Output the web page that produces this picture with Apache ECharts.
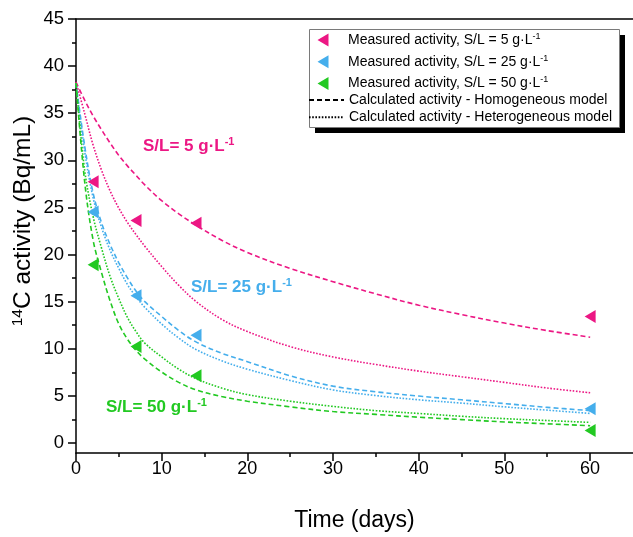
<!DOCTYPE html>
<html>
<head>
<meta charset="utf-8">
<script src="https://cdn.jsdelivr.net/npm/echarts@6/dist/echarts.min.js"></script>
<style>html,body{margin:0;padding:0;background:#fff;}#c{width:633px;height:537px;}</style>
</head>
<body>
<div id="c"></div>
<script>
// Measured data
const days = [2, 7, 14, 60];
const measured5 = [27.7, 23.6, 23.3, 13.4];
const measured25 = [24.5, 15.6, 11.4, 3.6];
const measured50 = [18.9, 10.2, 7.1, 1.3];

// Model curves
const modelDays = [0, 1, 2, 3, 4, 5, 6, 7, 8, 10, 12, 14, 17, 20, 25, 30, 35, 40, 45, 50, 55, 60];
const homog5   = [38.3, 36.4, 34.7, 33.2, 31.8, 30.5, 29.4, 28.4, 27.4, 25.7, 24.3, 23.1, 21.5, 20.2, 18.5, 17.1, 15.8, 14.6, 13.6, 12.7, 11.9, 11.2];
const hetero5  = [38.3, 35.0, 31.6, 28.9, 26.7, 24.9, 23.4, 22.1, 20.9, 18.7, 16.7, 15.0, 13.1, 11.8, 10.2, 9.1, 8.3, 7.6, 7.0, 6.4, 5.8, 5.3];
const homog25  = [38.2, 31.6, 26.5, 23.3, 21.0, 19.1, 17.5, 16.1, 15.0, 13.4, 11.9, 10.7, 9.5, 8.6, 7.1, 6.0, 5.4, 4.95, 4.55, 4.15, 3.75, 3.4];
const hetero25 = [38.2, 31.0, 26.0, 22.8, 20.4, 18.5, 16.8, 15.5, 14.4, 12.6, 11.1, 9.9, 8.7, 7.8, 6.6, 5.6, 5.0, 4.55, 4.2, 3.8, 3.45, 3.1];
const homog50  = [38.2, 27.8, 21.5, 18.0, 15.0, 12.6, 11.0, 9.8, 8.9, 7.5, 6.4, 5.6, 4.9, 4.4, 3.8, 3.3, 3.0, 2.7, 2.45, 2.2, 2.0, 1.8];
const hetero50 = [38.2, 29.0, 24.0, 20.6, 17.6, 15.3, 13.3, 11.8, 10.6, 9.1, 7.8, 6.8, 5.8, 5.1, 4.4, 3.85, 3.4, 3.1, 2.8, 2.55, 2.35, 2.15];

const names = {
  m5: 'Measured activity, S/L = 5 g·L-1',
  m25: 'Measured activity, S/L = 25 g·L-1',
  m50: 'Measured activity, S/L = 50 g·L-1',
  hom: 'Calculated activity - Homogeneous model',
  het: 'Calculated activity - Heterogeneous model'
};

const PINK = '#EC1784', BLUE = '#45AEEC', GREEN = '#22C922';
const FONT = 'Liberation Sans, Arial, sans-serif';
const DASH = [5, 3], DOT = [1.6, 1.6];
const AXIS_LINE = { color: '#000', width: 1.5 };

function pairs(xs, ys) { return xs.map((x, i) => [x, ys[i]]); }

const triIcon = 'path://M0,0 L0.01,0 L0,0.01 Z M35,13 L34.99,13 L35,12.99 Z M9.5,6.5 L20.5,0 L20.5,13 Z';

function scatter(name, ys, color) {
  return {
    name: name, type: 'scatter', data: pairs(days, ys),
    symbol: 'triangle', symbolRotate: 90, symbolSize: [13, 11],
    itemStyle: { color: color, opacity: 1 }, z: 4
  };
}
function curve(name, ys, color, type) {
  return {
    name: name, type: 'line', data: pairs(modelDays, ys),
    showSymbol: false, symbol: 'none', smooth: 0.35,
    lineStyle: { color: color, width: 1.6, type: type }, itemStyle: { color: color },
    z: 3, silent: true
  };
}

const legendFormatter = function (n) { return n.replace(/-1$/, '{s|-1}'); };
const legendText = {
  fontFamily: FONT, fontSize: 14, color: '#000', lineHeight: 16,
  rich: { s: { fontFamily: FONT, fontSize: 9, verticalAlign: 'top', lineHeight: 9, color: '#000' } }
};

function label(x, y, main, color) {
  return {
    type: 'text', x: x, y: y, z: 20,
    style: {
      text: '{b|' + main + '}{s|-1}', fill: color,
      verticalAlign: 'middle', align: 'left',
      rich: {
        b: { fontFamily: FONT, fontSize: 17, fontWeight: 'bold', fill: color, lineHeight: 20 },
        s: { fontFamily: FONT, fontSize: 11, fontWeight: 'bold', fill: color, verticalAlign: 'top', lineHeight: 11 }
      }
    }
  };
}

const chart = echarts.init(document.getElementById('c'), null, { renderer: 'canvas' });
chart.setOption({
  animation: false,
  backgroundColor: '#fff',
  grid: [
    { left: 76, right: 0, top: 19, bottom: 84, containLabel: false },
    // helper grid spanning y 0..45 only, for the y tick marks and labels
    { left: 76, right: 0, top: 19, bottom: 94, containLabel: false },
    // helper grid spanning x 0..60 only, for the x tick marks and labels
    { left: 76, right: 43, top: 19, bottom: 84, containLabel: false }
  ],
  xAxis: [{
    gridIndex: 0, type: 'value', min: 0, max: 65, position: 'bottom',
    axisLine: { show: true, onZero: false, lineStyle: AXIS_LINE },
    axisTick: { show: false }, axisLabel: { show: false }, splitLine: { show: false },
    name: 'Time (days)', nameLocation: 'middle', nameGap: 56,
    nameTextStyle: { fontFamily: FONT, fontSize: 23, color: '#000' }
  }, {
    gridIndex: 0, type: 'value', min: 0, max: 65, position: 'top',
    axisLine: { show: true, onZero: false, lineStyle: AXIS_LINE },
    axisTick: { show: false }, axisLabel: { show: false }, splitLine: { show: false }
  }, {
    gridIndex: 1, type: 'value', min: 0, max: 65, show: false
  }, {
    gridIndex: 2, type: 'value', min: 0, max: 60, interval: 10, position: 'bottom',
    axisLine: { show: false, onZero: false },
    axisTick: { show: true, inside: false, length: 8, lineStyle: AXIS_LINE },
    minorTick: { show: true, splitNumber: 2, length: 4, lineStyle: AXIS_LINE },
    splitLine: { show: false }, minorSplitLine: { show: false },
    axisLabel: { margin: 7, fontFamily: FONT, fontSize: 18, color: '#000' }
  }],
  yAxis: [{
    gridIndex: 0, type: 'value', min: -1.1, max: 45, position: 'left',
    axisLine: { show: true, onZero: false, lineStyle: AXIS_LINE },
    axisTick: { show: false }, axisLabel: { show: false }, splitLine: { show: false },
    name: '{s|14}C activity (Bq/mL)', nameLocation: 'middle', nameGap: 40, nameRotate: 90,
    nameTextStyle: {
      fontFamily: FONT, fontSize: 24.5, color: '#000', lineHeight: 26, padding: [0, 0, 0, 30],
      rich: { s: { fontFamily: FONT, fontSize: 15.5, color: '#000', verticalAlign: 'top', lineHeight: 14 } }
    }
  }, {
    gridIndex: 1, type: 'value', min: 0, max: 45, interval: 5, position: 'left',
    axisLine: { show: false, onZero: false },
    axisTick: { show: true, inside: false, length: 8, lineStyle: AXIS_LINE },
    minorTick: { show: true, splitNumber: 2, length: 4, lineStyle: AXIS_LINE },
    axisLabel: { margin: 12, fontFamily: FONT, fontSize: 18.5, color: '#000' },
    splitLine: { show: false }, minorSplitLine: { show: false }
  }, {
    gridIndex: 2, type: 'value', min: 0, max: 45, show: false
  }],
  legend: [{
    z: 10, orient: 'vertical', left: 308, top: 32, itemWidth: 35, itemHeight: 13, itemGap: 5.7,
    padding: 0, selectedMode: false,
    data: [
      { name: names.m5, icon: triIcon, itemStyle: { color: PINK } },
      { name: names.m25, icon: triIcon, itemStyle: { color: BLUE } },
      { name: names.m50, icon: triIcon, itemStyle: { color: GREEN } }
    ],
    formatter: legendFormatter, textStyle: legendText
  }, {
    z: 10, orient: 'vertical', left: 308, top: 92, itemWidth: 35, itemHeight: 13, itemGap: 1.3,
    padding: 0, selectedMode: false,
    data: [
      { name: names.hom, itemStyle: { opacity: 0 } },
      { name: names.het, itemStyle: { opacity: 0 } }
    ],
    formatter: legendFormatter, textStyle: legendText
  }],
  graphic: [
    { type: 'rect', z: 5, shape: { x: 315, y: 35, width: 310, height: 98 }, style: { fill: '#000' } },
    { type: 'rect', z: 6, shape: { x: 309.5, y: 29.5, width: 310, height: 98 }, style: { fill: '#fff', stroke: '#7a7a7a', lineWidth: 1 } },
    label(143, 146, 'S/L= 5 g·L', PINK),
    label(191, 287, 'S/L= 25 g·L', BLUE),
    label(106, 407, 'S/L= 50 g·L', GREEN)
  ],
  series: [
    curve('pink-hom', homog5, PINK, DASH),
    curve('pink-het', hetero5, PINK, DOT),
    curve('blue-hom', homog25, BLUE, DASH),
    curve('blue-het', hetero25, BLUE, DOT),
    curve('green-hom', homog50, GREEN, DASH),
    curve('green-het', hetero50, GREEN, DOT),
    scatter(names.m5, measured5, PINK),
    scatter(names.m25, measured25, BLUE),
    scatter(names.m50, measured50, GREEN),
    { name: names.hom, type: 'line', data: [], symbol: 'none', lineStyle: { color: '#000', width: 1.3, type: DASH }, itemStyle: { color: '#000', opacity: 0 } },
    { name: names.het, type: 'line', data: [], symbol: 'none', lineStyle: { color: '#000', width: 1.3, type: DOT }, itemStyle: { color: '#000', opacity: 0 } }
  ]
});
</script>
</body>
</html>
